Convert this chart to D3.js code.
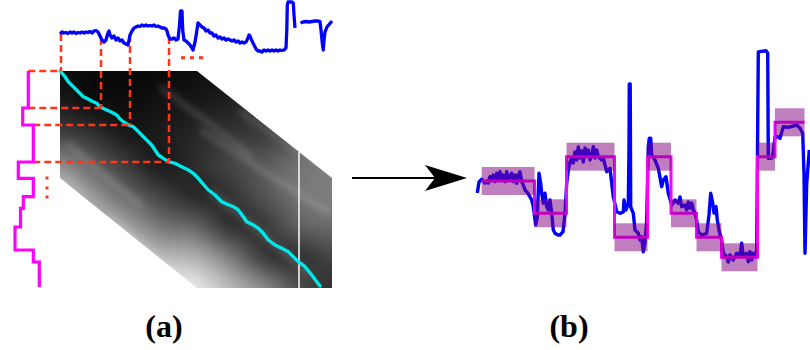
<!DOCTYPE html>
<html>
<head>
<meta charset="utf-8">
<script src="https://cdn.jsdelivr.net/npm/d3@7"></script>
<style>
  html, body { margin: 0; padding: 0; background: #fff; }
  svg { display: block; }
</style>
</head>
<body>
<svg id="fig" width="810" height="350"></svg>
<script>
// ---------- Panel (a) data ----------
// query signal (frame, amplitude), drawn above the cost matrix, two pieces
const querySigA = [[0,22],[2,24],[4,23],[6,23.5],[8,22.5],[10,24],[12,23],[14,24],[16,22.5],[18,23.5],[20,23],[22,24],[24,23],[26,24],[28,23.5],[30,24.5],[32,23],[34,25],[36,25.5],[38,24],[40,20],[42,16],[44,14],[46,16],[47,20],[48,23],[49,25],[50,21],[52,18],[54,20],[56,16],[58,18],[60,15],[62,16],[64,13],[66,12],[68,11],[69,16],[70,21],[72,25],[74,28],[76,29],[78,30],[80,29.5],[82,31],[84,30],[86,31],[88,30],[90,30.5],[92,30],[94,31],[96,29.5],[98,30],[100,29],[102,28],[104,28],[106,27],[107,25],[108,21],[110,17],[112,17],[114,18],[116,16],[118,17],[119.5,31],[120.5,45],[122,45],[122.7,26],[124,16],[126,15],[128,13],[130,11],[132,8],[133,6],[135,14],[136.5,23],[138,33],[140,31],[142,29],[144,28],[146,25],[148,26],[150,23],[152,23],[154,20],[156,21],[158,18],[160,19],[162,17],[164,18],[166,16],[168,17],[170,16],[172,15],[174,16],[176,14],[178,15],[180,13],[182,14],[184,13],[186,14],[188,18],[189,21],[190,20],[192,15],[194,11],[196,7],[198,5],[200,5],[202,4],[204,6],[206,5],[208,6],[210,5],[212,6],[214,5],[216,6],[218,5],[220,6],[222,5.5],[224,6],[226,8],[226.8,26],[227.3,51],[228,54],[232,54],[233.3,53],[234,41],[235,28]];
const querySigB = [[240.5,33],[243,34],[246,34.5],[249,34],[252,34.5],[255,35],[258,35],[260,34.5],[261,26],[262.5,11],[263.3,6],[264,16],[265,24],[267,29],[269.5,32],[272,35]];

// reference signal as piecewise-constant levels: [startFrame, endFrame, level]
const refSteps = [[0,37,18.3],[37,54,12.7],[54,91,23.3],[91,107.3,8.3],[107.3,125.7,23.3],[125.7,137.3,13.3],[137.3,156,10.5],[156,179,5],[179,191,23.3],[191,216,29.3]];

// accumulated cost grid (0 = low cost/black, 100 = high cost/white)
const gridQ = [0,34,68,102,136,170,204,238,272];
const gridR = [0,31,62,93,124,155,186,217];
const costGrid = [
  [5,3,3,4,5,8,12,16,20],
  [11,5,5,7,9,13,18,22,25],
  [25,18,9,11,15,20,23,27,31],
  [55,37,22,9,18,27,35,45,47],
  [82,59,39,25,14,20,33,45,50],
  [92,78,63,45,39,18,21,38,42],
  [98,92,84,73,69,49,22,18,27],
  [100,98,96,94,92,73,55,31,18]
];
// faint ridges of higher cost running through the matrix (query frame, reference frame)
const costRidges = [
  [[100,16],[140,45],[193,86]],
  [[140,59],[200,98],[270,142]],
  [[7,72],[45,105],[83,136]],
  [[50,146],[90,180],[127,216]],
  [[150,120],[200,160],[250,205]],
  [[180,40],[230,75],[272,100]]
];
// band-limited region of the matrix (query frame, reference frame)
const bandOutline = [[0,0],[137,0],[272,107],[272,217],[137,217],[0,107]];

// optimal warping path (query frame, reference frame)
const warpPath = [[0,0],[5,5.7],[8.3,10.7],[13.3,15.7],[18.3,20.7],[23.3,25.7],[26.7,27.3],[31.7,30],[36.7,32.3],[40,35.7],[45,38.3],[51.7,41.3],[56.7,44],[60,48],[63.3,50.7],[68.3,54],[73.3,55.7],[76.7,59],[81.7,64],[86.7,69],[91.7,74],[95,79],[98.3,84],[103.3,87.3],[108.3,90.7],[115,92.3],[121.7,95.7],[128.3,99],[133.3,102.3],[138.3,107.3],[141.7,111.3],[148.3,119],[155,124],[161.7,130.7],[166.7,133],[173.3,135.7],[178.3,139],[183.3,145.7],[186.7,150.7],[193.3,154],[198.3,157.3],[203.3,162.3],[208.3,169],[215,174],[221.7,177.3],[228.3,180.7],[233.3,185.7],[238.3,190.7],[245,195.7],[251.7,204],[256.7,210.7],[260,215]];

// matched boundaries (query frame, reference frame)
const boundaries = [[0,0],[41,37],[70,54],[109,91]];
// frame of the vertical marker line inside the matrix
const markerFrame = 239, markerFrom = 81;
// continuation dots
const dotsQuery = [123,132,141];
const dotsRef = [107,117,126];

// ---------- Panel (b) data ----------
const signalB = [[7.3,87],[9,98],[11.7,100.7],[13,99],[15,97],[17,99],[18.3,97],[20,103.3],[21.7,100],[23.3,105],[25,98.3],[26.7,106.7],[28.3,100],[30,108.3],[31.7,101.7],[33.3,105],[35,98.3],[36.7,108.3],[38.3,100],[41.7,106.7],[43.3,98.3],[45,105],[46.7,96.7],[48.3,105],[50,108.3],[51.7,98.3],[53.3,95],[55,90],[56.7,88.3],[60,83.3],[61.7,80],[63.3,73.3],[65.7,55],[67.3,63.3],[69,106.7],[70.7,96.7],[71.7,86.7],[73.3,76.7],[75,86.7],[76.7,73.3],[78.3,70],[80,80],[81.7,66.7],[83.3,50],[85,46.7],[88,45],[90,45],[93,48.3],[95,66.7],[96.7,96.7],[98.3,110],[100,118],[101.7,122],[103.3,117],[105,128],[106.7,120],[108.3,133],[110,122],[111.7,129],[113.3,118],[115,132],[116.7,124],[118.3,130],[120,120],[121.7,125],[123.3,133.3],[125,122],[126.7,130],[128.3,123.3],[131.7,120],[133.3,122],[136.7,108.3],[140,111.7],[141.7,96.7],[143.3,83.3],[146.7,68.3],[150,66.7],[153.3,68],[154,80],[156,70],[158.3,76.7],[159,130],[159.3,196],[160.2,196],[160.7,73],[163.3,66.7],[165,50],[168.3,46.7],[170,40],[171.7,43.3],[173.3,28.3],[175,37],[176.7,60],[178.3,133.3],[179.3,141.7],[180.7,141.7],[181.7,125],[185,120],[188.3,111.7],[191.7,93.3],[193.3,100],[196,103.3],[198.3,86.7],[201.7,75],[205,80],[208.3,76.7],[210,83],[211.7,73.3],[215,75],[216.7,70],[218.3,78],[220,72],[221.7,77],[223.3,70],[225,66.7],[226.7,60],[228.3,48.3],[231.7,45],[236.7,46.7],[239,65],[240.7,86.7],[242.7,77],[244,67],[246,73.3],[247.3,60],[249.3,48.3],[251.7,40],[253.3,26.7],[256.7,23.3],[258.3,18],[260,25],[263.3,20],[266.7,26.7],[270,25],[271.7,36.7],[273.3,23.3],[276.7,26.7],[278.3,18.3],[280,28.3],[281.7,20],[283.3,26.7],[285,23.3],[286.7,30],[288.3,228],[290,228.3],[296,229.3],[297.7,227],[298.3,121.7],[300,121.7],[302,122],[303.3,128],[305,143.3],[307.3,143.3],[310,141.7],[313.3,153.3],[318.3,152.7],[323.3,154],[326.7,155],[330,151.7],[332.7,146.7],[334,106.7],[335,26.7],[336.7,96.7],[339.3,130]];

// segmented states: start frame, end frame, level
const stateStart = [11.7,64.5,96.5,144.5,177.5,201,226.5,251.5,287.5,305];
const stateEnd   = [64.5,96.5,144.5,177.5,201,226.5,251.5,287.5,305,334.5];
const stateLevel = [99,66.7,123.3,42.7,123.3,66.7,42.7,22.7,123.3,157.7];
const stateBand = 14;

const panelLabels = ["(a)", "(b)"];

// ---------- scales ----------
const qScale = d3.scaleLinear().domain([0, 272]).range([60, 332]);   // query frames
const rScale = d3.scaleLinear().domain([0, 217]).range([71, 288]);   // reference frames
const topAmp = d3.scaleLinear().domain([0, 54]).range([56, 2]);      // query amplitude
const leftAmp = d3.scaleLinear().domain([0, 35]).range([10, 45]);    // reference amplitude
const bX = d3.scaleLinear().domain([0, 340]).range([470, 810]);
const bY = d3.scaleLinear().domain([0, 240]).range([280, 40]);
const costColor = d3.scaleLinear().domain([0, 100]).range(["#000000", "#ffffff"]);

const svg = d3.select("#fig");
const defs = svg.append("defs");

const RED = "#ff361a", BLUE = "#0000ff", MAGENTA = "#ff00ff", CYAN = "#00e8ea";

// ---------- cost matrix raster ----------
defs.append("clipPath").attr("id", "band")
  .append("polygon")
  .attr("points", bandOutline.map(p => [qScale(p[0]), rScale(p[1])].join(",")).join(" "));
defs.append("filter").attr("id", "soft")
  .attr("filterUnits", "userSpaceOnUse")
  .attr("x", 40).attr("y", 50).attr("width", 320).attr("height", 260)
  .append("feGaussianBlur").attr("stdDeviation", 3);

(function drawCost() {
  const nc = gridQ.length, nr = gridR.length;
  const small = document.createElement("canvas");
  small.width = nc; small.height = nr;
  const sctx = small.getContext("2d");
  const im = sctx.createImageData(nc, nr);
  costGrid.forEach((row, j) => row.forEach((v, i) => {
    const c = d3.rgb(costColor(v));
    const k = 4 * (j * nc + i);
    im.data[k] = c.r; im.data[k + 1] = c.g; im.data[k + 2] = c.b; im.data[k + 3] = 255;
  }));
  sctx.putImageData(im, 0, 0);
  const cw = qScale(gridQ[1]) - qScale(gridQ[0]);
  const ch = rScale(gridR[1]) - rScale(gridR[0]);
  const W = Math.round(cw * nc), H = Math.round(ch * nr);
  const big = document.createElement("canvas");
  big.width = W; big.height = H;
  const bctx = big.getContext("2d");
  bctx.imageSmoothingEnabled = true;
  bctx.imageSmoothingQuality = "high";
  bctx.drawImage(small, 0, 0, W, H);

  const g = svg.append("g").attr("clip-path", "url(#band)");
  g.append("image")
    .attr("href", big.toDataURL())
    .attr("x", qScale(gridQ[0]) - cw / 2)
    .attr("y", rScale(gridR[0]) - ch / 2)
    .attr("width", W).attr("height", H)
    .attr("preserveAspectRatio", "none");
  g.append("g").attr("filter", "url(#soft)")
    .selectAll("path").data(costRidges).join("path")
    .attr("d", d3.line().curve(d3.curveBasis).x(d => qScale(d[0])).y(d => rScale(d[1])))
    .attr("fill", "none").attr("stroke", "#ffffff").attr("stroke-opacity", 0.16)
    .attr("stroke-width", 6);
})();

// marker line in the matrix
svg.append("line")
  .attr("x1", qScale(markerFrame)).attr("x2", qScale(markerFrame))
  .attr("y1", rScale(markerFrom)).attr("y2", rScale(217))
  .attr("stroke", "#f4f4f4").attr("stroke-width", 1.6);

// warping path
svg.append("path")
  .attr("d", d3.line().x(d => qScale(d[0])).y(d => rScale(d[1]))(warpPath))
  .attr("fill", "none").attr("stroke", CYAN).attr("stroke-width", 3.4)
  .attr("stroke-linejoin", "round").attr("stroke-linecap", "round");

// helpers to read the query value / reference level at a frame
function queryAt(f) {
  const s = querySigA;
  for (let i = 1; i < s.length; i++) {
    if (s[i][0] >= f) {
      const t = (f - s[i - 1][0]) / (s[i][0] - s[i - 1][0] || 1);
      return s[i - 1][1] + t * (s[i][1] - s[i - 1][1]);
    }
  }
  return s[s.length - 1][1];
}
function refEdge(r) {
  const touching = refSteps.filter(s => s[0] <= r && s[1] >= r);
  return d3.max(touching, s => s[2]);
}

// dashed boundary guides
const guides = svg.append("g")
  .attr("stroke", RED).attr("stroke-width", 2.5)
  .attr("stroke-dasharray", "7,4").attr("fill", "none");
boundaries.forEach(([q, r]) => {
  const gx = qScale(q) + (q === 0 ? 1 : 0);
  guides.append("line")
    .attr("x1", gx).attr("x2", gx)
    .attr("y1", topAmp(queryAt(q))).attr("y2", rScale(r));
  guides.append("line")
    .attr("y1", rScale(r)).attr("y2", rScale(r))
    .attr("x1", leftAmp(refEdge(r))).attr("x2", gx);
});

// query signal on top
[querySigA, querySigB].forEach(seg => {
  svg.append("path")
    .attr("d", d3.line().x(d => qScale(d[0])).y(d => topAmp(d[1]))(seg))
    .attr("fill", "none").attr("stroke", BLUE).attr("stroke-width", 3.3)
    .attr("stroke-linejoin", "round");
});

// reference signal on the left (vertical time axis)
const refPts = [];
refSteps.forEach(([r0, r1, v]) => { refPts.push([v, r0]); refPts.push([v, r1]); });
svg.append("path")
  .attr("d", d3.line().x(d => leftAmp(d[0])).y(d => rScale(d[1]))(refPts))
  .attr("fill", "none").attr("stroke", MAGENTA).attr("stroke-width", 3.2)
  .attr("stroke-linejoin", "miter");

// continuation dots
svg.append("g").attr("fill", RED).selectAll("rect").data(dotsQuery).join("rect")
  .attr("x", d => qScale(d) - 2).attr("y", topAmp(-1.7) - 1.5)
  .attr("width", 4).attr("height", 3);
svg.append("g").attr("fill", RED).selectAll("rect").data(dotsRef).join("rect")
  .attr("x", leftAmp(37) - 1.5).attr("y", d => rScale(d) - 1.5)
  .attr("width", 3).attr("height", 3);

// ---------- arrow between panels ----------
(function arrow() {
  const y = 178, x0 = 352, tip = 467, back = 425, notch = 435, hw = 13;
  svg.append("line").attr("x1", x0).attr("x2", notch + 2).attr("y1", y).attr("y2", y)
    .attr("stroke", "#000").attr("stroke-width", 2);
  const p = d3.path();
  p.moveTo(tip, y); p.lineTo(back, y - hw); p.lineTo(notch, y); p.lineTo(back, y + hw); p.closePath();
  svg.append("path").attr("d", p.toString()).attr("fill", "#000");
})();

// ---------- Panel (b) ----------
svg.append("path")
  .attr("d", d3.line().x(d => bX(d[0])).y(d => bY(d[1]))(signalB))
  .attr("fill", "none").attr("stroke", BLUE).attr("stroke-width", 3.4)
  .attr("stroke-linejoin", "round");

const stepPts = [];
stateLevel.forEach((lv, i) => { stepPts.push([stateStart[i], lv]); stepPts.push([stateEnd[i], lv]); });
svg.append("path")
  .attr("d", d3.line().x(d => bX(d[0])).y(d => bY(d[1]))(stepPts))
  .attr("fill", "none").attr("stroke", MAGENTA).attr("stroke-width", 3)
  .attr("stroke-linejoin", "miter");

svg.append("g").selectAll("rect").data(stateLevel).join("rect")
  .attr("x", (d, i) => bX(stateStart[i]))
  .attr("width", (d, i) => bX(stateEnd[i]) - bX(stateStart[i]))
  .attr("y", d => bY(d + stateBand))
  .attr("height", d => bY(d - stateBand) - bY(d + stateBand))
  .attr("fill", "#800080").attr("fill-opacity", 0.5);

// ---------- panel labels ----------
svg.append("g").selectAll("text").data(panelLabels).join("text")
  .attr("x", (d, i) => [164, 569][i]).attr("y", 337)
  .attr("text-anchor", "middle")
  .attr("font-family", "'Liberation Serif', 'Times New Roman', serif")
  .attr("font-weight", "bold").attr("font-size", 32)
  .text(d => d);
</script>
</body>
</html>
